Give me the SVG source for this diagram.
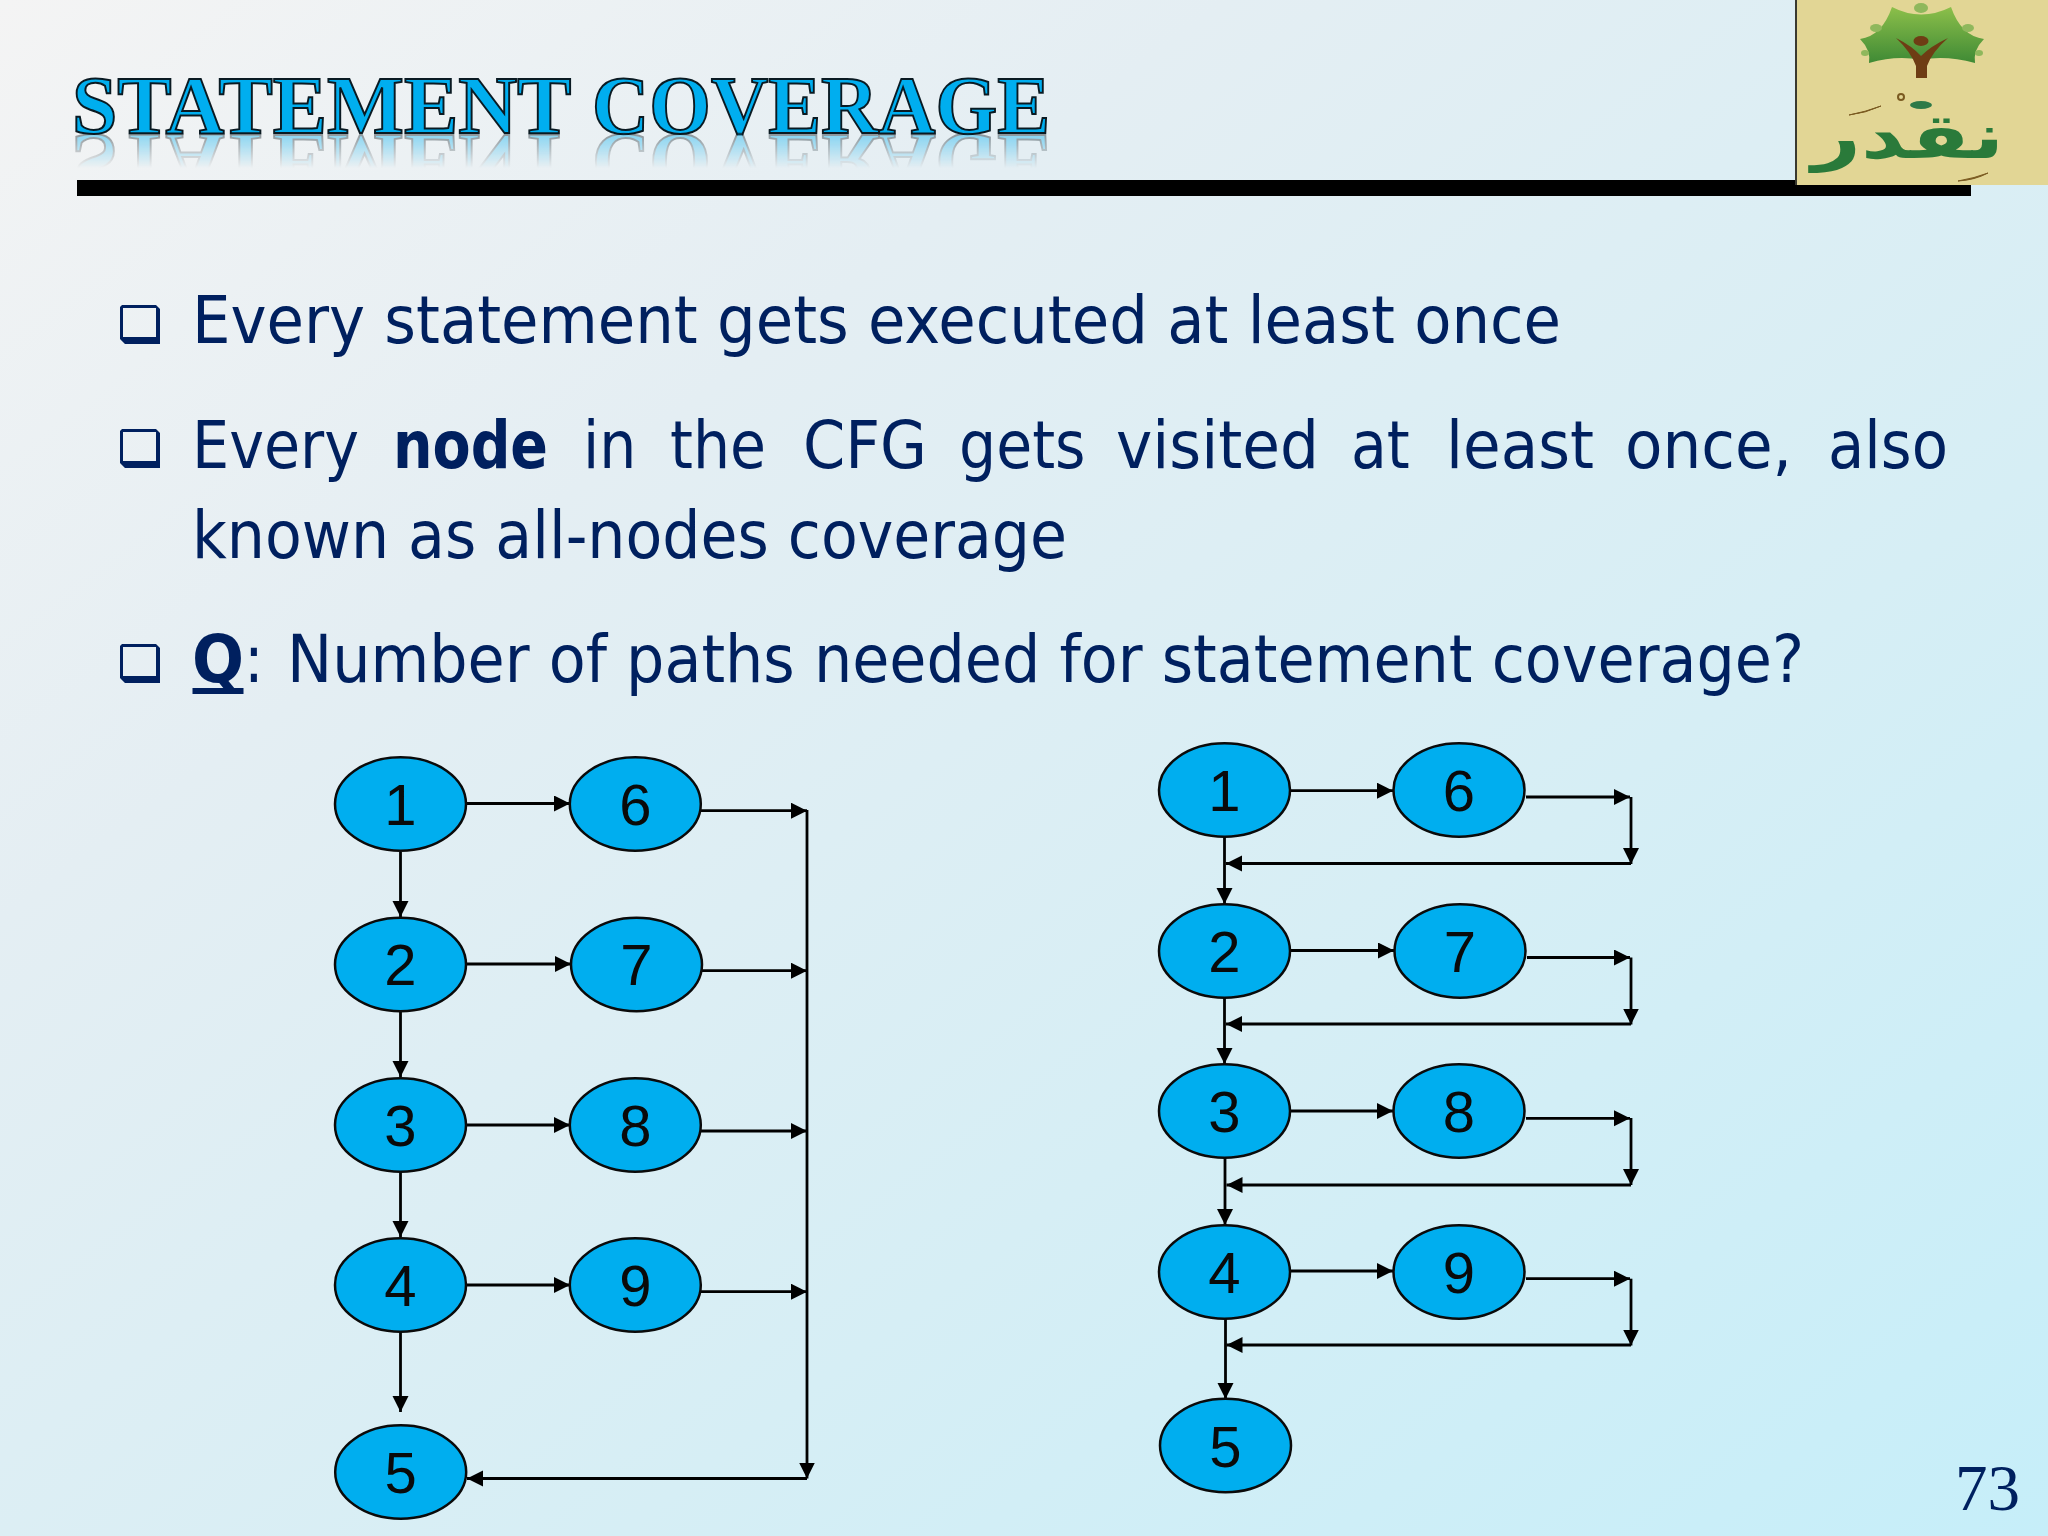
<svg xmlns="http://www.w3.org/2000/svg" xmlns:xlink="http://www.w3.org/1999/xlink" width="2048" height="1536" viewBox="0 0 2048 1536">
<style>
.n ellipse{fill:#00aeef;stroke:#0a0a0a;stroke-width:2.5}
.n text{font:58px "Liberation Sans",Arial,sans-serif;fill:#0a0a0a;text-anchor:middle}
#connectors line{stroke:#000;stroke-width:2.8;marker-end:url(#ah)}
.b{font-family:"DejaVu Sans Condensed","DejaVu Sans",sans-serif;font-size:65px;fill:#00205f}
.bu{fill:#00205f;fill-rule:evenodd}
</style>
<defs>
<linearGradient id="bg" x1="0" y1="0" x2="1" y2="1">
<stop offset="0" stop-color="#f4f4f4"/><stop offset=".3" stop-color="#e4eef3"/><stop offset=".65" stop-color="#d6eef5"/><stop offset="1" stop-color="#c6eef9"/>
</linearGradient>
<linearGradient id="crown" x1="0" y1="0" x2="0" y2="1"><stop offset="0" stop-color="#8cbf4a"/><stop offset="1" stop-color="#3f8a35"/></linearGradient>
<linearGradient id="fade" gradientUnits="userSpaceOnUse" x1="0" y1="134" x2="0" y2="168"><stop offset="0" stop-color="#fff" stop-opacity=".42"/><stop offset="1" stop-color="#fff" stop-opacity="0"/></linearGradient>
<mask id="rm" maskUnits="userSpaceOnUse" x="60" y="130" width="1000" height="45"><rect x="60" y="130" width="1000" height="45" fill="url(#fade)"/></mask>
<marker id="ah" markerUnits="userSpaceOnUse" markerWidth="18" markerHeight="18" refX="16" refY="8" orient="auto"><path d="M0 0L16 8L0 16Z" fill="#000"/></marker>
<path id="box" class="bu" d="M2 0H36L40 4V39H5L0 34V2ZM3 3V32H36V3Z"/>
</defs>
<rect width="2048" height="1536" fill="url(#bg)"/>
<g id="title">
<text id="title-text" y="132.500" font-family="'Liberation Serif','Times New Roman',serif" font-weight="700" font-size="83" fill="#00aeef" stroke="#0a1a22" stroke-width="2"><tspan x="72" textLength="498" lengthAdjust="spacingAndGlyphs">STATEMENT</tspan> <tspan x="592" textLength="458" lengthAdjust="spacingAndGlyphs">COVERAGE</tspan></text>
<g mask="url(#rm)"><use href="#title-text" transform="translate(0,267) scale(1,-1)"/></g>
<rect x="77" y="180" width="1894" height="16" fill="#000"/>
</g>
<g id="logo">
<rect x="1796" y="0" width="252" height="185" fill="#e2d695"/>
<rect x="1795" y="0" width="2" height="185" fill="#3a3a30"/>
<path d="M1860 39Q1882 36 1892 7Q1921 22 1951 7Q1961 36 1984 39Q1973 50 1975 63Q1945 55 1921 60Q1897 55 1869 63Q1871 50 1860 39Z" fill="url(#crown)"/>
<path d="M1896 38Q1912 46 1921 56Q1931 46 1948 38Q1932 52 1927 66V78H1916V66Q1911 52 1896 38Z" fill="#6e3d14"/>
<ellipse cx="1921" cy="41" rx="7.500" ry="5" fill="#6e3d14"/>
<g fill="#8fb85c"><ellipse cx="1921" cy="8" rx="7" ry="5"/><ellipse cx="1876" cy="28" rx="6" ry="4"/><ellipse cx="1968" cy="28" rx="6" ry="4"/><ellipse cx="1865" cy="53" rx="4" ry="3"/><ellipse cx="1979" cy="53" rx="4" ry="3"/></g>
<text x="0" y="0" transform="translate(1908,158) scale(1.380,1)" text-anchor="middle" font-family="'DejaVu Sans',sans-serif" font-weight="700" font-size="62" fill="#2a7a3a">نقدر</text>
<ellipse cx="1921" cy="105" rx="11" ry="4" fill="#2e7a48"/>
<path d="M1849 115Q1865 112 1881 106Q1866 113 1849 115ZM1958 181Q1975 178 1988 173Q1975 180 1958 181Z" fill="#7a5a20" stroke="#7a5a20"/>
<circle cx="1901" cy="97" r="3" fill="none" stroke="#7a5a20" stroke-width="2"/>
</g>
<g id="bullets">
<use href="#box" x="120" y="305"/>
<use href="#box" x="120" y="429"/>
<use href="#box" x="120" y="644"/>
<text class="b" x="192" y="343" textLength="1369" lengthAdjust="spacingAndGlyphs">Every statement gets executed at least once</text>
<text class="b" y="468"><tspan x="192" textLength="167" lengthAdjust="spacingAndGlyphs">Every</tspan><tspan x="393" font-weight="700" textLength="155" lengthAdjust="spacingAndGlyphs">node</tspan><tspan x="583">in</tspan><tspan x="670">the</tspan><tspan x="803" textLength="124" lengthAdjust="spacingAndGlyphs">CFG</tspan><tspan x="959">gets</tspan><tspan x="1116" textLength="203" lengthAdjust="spacingAndGlyphs">visited</tspan><tspan x="1351">at</tspan><tspan x="1446" textLength="148" lengthAdjust="spacingAndGlyphs">least</tspan><tspan x="1625" textLength="167" lengthAdjust="spacingAndGlyphs">once,</tspan><tspan x="1828" textLength="120" lengthAdjust="spacingAndGlyphs">also</tspan></text>
<text class="b" x="192" y="558" textLength="875" lengthAdjust="spacingAndGlyphs">known as all-nodes coverage</text>
<text class="b" y="682"><tspan x="192" font-weight="700" textLength="52" lengthAdjust="spacingAndGlyphs">Q</tspan><tspan>:</tspan><tspan x="287" textLength="1517" lengthAdjust="spacingAndGlyphs">Number of paths needed for statement coverage?</tspan></text>
<rect x="192.500" y="688" width="51" height="6" fill="#00205f"/>
</g>
<g id="connectors">
<line x1="467" y1="803.500" x2="570" y2="803.500"/>
<line x1="467" y1="964" x2="571" y2="964"/>
<line x1="467" y1="1125" x2="570" y2="1125"/>
<line x1="467" y1="1285" x2="570" y2="1285"/>
<line x1="400.500" y1="852" x2="400.500" y2="917"/>
<line x1="400.500" y1="1012" x2="400.500" y2="1077"/>
<line x1="400.500" y1="1172" x2="400.500" y2="1237"/>
<line x1="400.500" y1="1332" x2="400.500" y2="1412"/>
<line x1="701" y1="810.700" x2="807" y2="810.700"/>
<line x1="702" y1="970.700" x2="807" y2="970.700"/>
<line x1="701" y1="1131" x2="807" y2="1131"/>
<line x1="701" y1="1291.700" x2="807" y2="1291.700"/>
<line x1="807" y1="810" x2="807" y2="1478.500"/>
<line x1="807" y1="1478.500" x2="467" y2="1478.500"/>
<line x1="1291" y1="790.700" x2="1393" y2="790.700"/>
<line x1="1291" y1="950.500" x2="1394" y2="950.500"/>
<line x1="1291" y1="1111" x2="1393" y2="1111"/>
<line x1="1291" y1="1271" x2="1393" y2="1271"/>
<line x1="1224.500" y1="837" x2="1224.500" y2="904"/>
<line x1="1224.500" y1="998" x2="1224.500" y2="1064"/>
<line x1="1225" y1="1158" x2="1225" y2="1225"/>
<line x1="1225.500" y1="1319" x2="1225.500" y2="1399"/>
<line x1="1526" y1="797" x2="1630" y2="797"/>
<line x1="1527" y1="957.500" x2="1630" y2="957.500"/>
<line x1="1526" y1="1118.300" x2="1630" y2="1118.300"/>
<line x1="1526" y1="1278.700" x2="1630" y2="1278.700"/>
<line x1="1631" y1="797" x2="1631" y2="864"/>
<line x1="1631" y1="957.500" x2="1631" y2="1024.500"/>
<line x1="1631" y1="1118" x2="1631" y2="1185"/>
<line x1="1631" y1="1278.700" x2="1631" y2="1345.500"/>
<line x1="1631" y1="863.500" x2="1226" y2="863.500"/>
<line x1="1631" y1="1024" x2="1226" y2="1024"/>
<line x1="1631" y1="1185" x2="1226.500" y2="1185"/>
<line x1="1631" y1="1345" x2="1226.500" y2="1345"/>
</g>
<g id="left-n1" class="n"><ellipse cx="400.500" cy="804" rx="65.500" ry="46.700"/><text x="400.500" y="825">1</text></g>
<g id="left-n2" class="n"><ellipse cx="400.500" cy="964.500" rx="65.500" ry="46.700"/><text x="400.500" y="985">2</text></g>
<g id="left-n3" class="n"><ellipse cx="400.500" cy="1125" rx="65.500" ry="46.700"/><text x="400.500" y="1146">3</text></g>
<g id="left-n4" class="n"><ellipse cx="400.500" cy="1285" rx="65.500" ry="46.700"/><text x="400.500" y="1306">4</text></g>
<g id="left-n5" class="n"><ellipse cx="400.700" cy="1472" rx="65.500" ry="46.700"/><text x="400.700" y="1493">5</text></g>
<g id="left-n6" class="n"><ellipse cx="635.300" cy="804" rx="65.500" ry="46.700"/><text x="635.300" y="825">6</text></g>
<g id="left-n7" class="n"><ellipse cx="636.500" cy="964.500" rx="65.500" ry="46.700"/><text x="636.500" y="985">7</text></g>
<g id="left-n8" class="n"><ellipse cx="635.300" cy="1125" rx="65.500" ry="46.700"/><text x="635.300" y="1146">8</text></g>
<g id="left-n9" class="n"><ellipse cx="635.300" cy="1285" rx="65.500" ry="46.700"/><text x="635.300" y="1306">9</text></g>
<g id="right-n1" class="n"><ellipse cx="1224.500" cy="790" rx="65.500" ry="46.700"/><text x="1224.500" y="811">1</text></g>
<g id="right-n2" class="n"><ellipse cx="1224.500" cy="951" rx="65.500" ry="46.700"/><text x="1224.500" y="972">2</text></g>
<g id="right-n3" class="n"><ellipse cx="1224.500" cy="1111" rx="65.500" ry="46.700"/><text x="1224.500" y="1132">3</text></g>
<g id="right-n4" class="n"><ellipse cx="1224.500" cy="1272" rx="65.500" ry="46.700"/><text x="1224.500" y="1293">4</text></g>
<g id="right-n5" class="n"><ellipse cx="1225.500" cy="1445.500" rx="65.500" ry="46.700"/><text x="1225.500" y="1466.500">5</text></g>
<g id="right-n6" class="n"><ellipse cx="1459" cy="790" rx="65.500" ry="46.700"/><text x="1459" y="811">6</text></g>
<g id="right-n7" class="n"><ellipse cx="1460" cy="951" rx="65.500" ry="46.700"/><text x="1460" y="972">7</text></g>
<g id="right-n8" class="n"><ellipse cx="1459" cy="1111" rx="65.500" ry="46.700"/><text x="1459" y="1132">8</text></g>
<g id="right-n9" class="n"><ellipse cx="1459" cy="1272" rx="65.500" ry="46.700"/><text x="1459" y="1293">9</text></g>
<text id="page" x="1955" y="1510" font-family="'Liberation Serif',serif" font-size="65" fill="#00205f">73</text>
</svg>
